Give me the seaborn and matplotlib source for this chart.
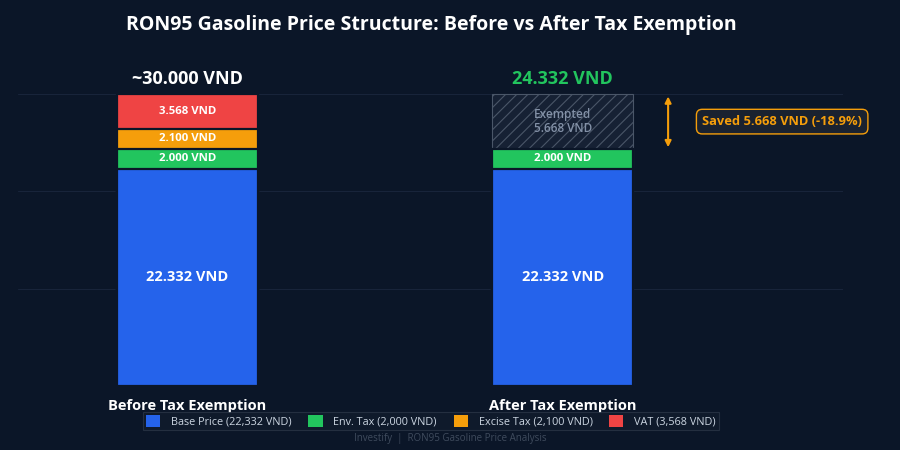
import matplotlib
matplotlib.use("Agg")
import matplotlib.pyplot as plt
import seaborn as sns
import pandas as pd
from matplotlib.patches import Patch

categories = ["Before Tax Exemption", "After Tax Exemption"]
base_price = [22332, 22332]
env_tax = [2000, 2000]
excise_tax = [2100, 0]
vat = [3568, 0]
before_total_label = "~30.000 VND"
after_total_label = "24.332 VND"
exempted_value = 5668
saved_label = "Saved 5.668 VND (-18.9%)"
legend_labels = ["Base Price (22,332 VND)", "Env. Tax (2,000 VND)",
                 "Excise Tax (2,100 VND)", "VAT (3,568 VND)"]

BG = "#0b1628"
C_BASE, C_ENV, C_EXC, C_VAT = "#2563eb", "#22c55e", "#f59e0b", "#ef4444"
FONT = ["Open Sans", "DejaVu Sans"]

sns.set_theme(style="dark")
plt.rcParams["font.family"] = FONT
plt.rcParams["hatch.color"] = "#3a475a"
plt.rcParams["hatch.linewidth"] = 0.8

fig = plt.figure(figsize=(9, 4.5), dpi=100, facecolor=BG)
ax = fig.add_axes([0.02, 0.142, 0.917, 0.7356])
ax.set_facecolor(BG)

df = pd.DataFrame({"cat": categories, "base": base_price, "env": env_tax,
                   "exc": excise_tax, "vat": vat})
df["c_env"] = df["base"] + df["env"]
df["c_exc"] = df["c_env"] + df["exc"]
df["c_vat"] = df["c_exc"] + df["vat"]
before = df[df["cat"] == categories[0]]
after = df[df["cat"] == categories[1]].copy()
after["c_exempt"] = after["c_env"] + exempted_value

W = 0.376
kw = dict(order=categories, width=W, edgecolor=BG, linewidth=1.6, ax=ax, errorbar=None)
sns.barplot(data=before, x="cat", y="c_vat", color=C_VAT, saturation=1, **kw)
sns.barplot(data=before, x="cat", y="c_exc", color=C_EXC, saturation=1, **kw)
sns.barplot(data=after, x="cat", y="c_exempt", order=categories, width=W,
            color="#162134", saturation=1, edgecolor="#4a5668", linewidth=0.8,
            hatch="///", ax=ax, errorbar=None)
sns.barplot(data=df, x="cat", y="c_env", color=C_ENV, saturation=1, **kw)
sns.barplot(data=df, x="cat", y="base", color=C_BASE, saturation=1, **kw)

ax.set_xlim(-0.452, 1.748)
ax.set_ylim(0, 34000)
ax.set_yticks([10000, 20000, 30000])
ax.set_yticklabels([])
ax.grid(axis="y", color="#18243a", linewidth=0.8)
ax.grid(axis="x", visible=False)
ax.set_axisbelow(True)
for s in ax.spines.values():
    s.set_visible(False)
ax.set_xlabel("")
ax.set_ylabel("")
ax.tick_params(axis="x", length=0, pad=9, colors="white")
ax.tick_params(axis="y", length=0)
for t in ax.get_xticklabels():
    t.set_fontweight("bold")
    t.set_fontsize(10.5)
    t.set_color("white")

def fmt(v):
    return f"{v:,}".replace(",", ".") + " VND"

# segment labels
for i in range(2):
    b = df.loc[i]
    ax.text(i, b["base"] / 2, fmt(int(b["base"])), ha="center", va="center",
            color="white", fontsize=10.5, fontweight="bold")
    ax.text(i, b["base"] + b["env"] / 2, fmt(int(b["env"])), ha="center", va="center",
            color="white", fontsize=8.2, fontweight="bold")
    if b["exc"] > 0:
        ax.text(i, b["c_env"] + b["exc"] / 2, fmt(int(b["exc"])), ha="center", va="center",
                color="white", fontsize=8.2, fontweight="bold")
    if b["vat"] > 0:
        ax.text(i, b["c_exc"] + b["vat"] / 2, fmt(int(b["vat"])), ha="center", va="center",
                color="white", fontsize=8.2, fontweight="bold")

ymid = after["c_env"].iloc[0] + exempted_value / 2
ax.text(1, ymid, "Exempted\n" + fmt(exempted_value), ha="center", va="center",
        color="#8391a7", fontsize=8.5, fontweight="semibold", linespacing=1.1)

# totals
ax.text(0, 31500, before_total_label, ha="center", va="center", color="white",
        fontsize=13, fontweight="bold")
ax.text(1, 31500, after_total_label, ha="center", va="center", color=C_ENV,
        fontsize=13, fontweight="bold")

# arrow and saved box
y_top = df["c_vat"].iloc[0]
y_bot = df["c_env"].iloc[1]
ax.annotate("", xy=(1.281, y_top - 250), xytext=(1.281, y_bot + 200),
            arrowprops=dict(arrowstyle="<|-|>", color=C_EXC, lw=1.5,
                            mutation_scale=9, shrinkA=0, shrinkB=0))
ax.text(1.585, ymid, saved_label, ha="center", va="center", color=C_EXC,
        fontsize=9.3, fontweight="bold",
        bbox=dict(boxstyle="round,pad=0.45,rounding_size=0.45", fc="#1a2230",
                  ec=C_EXC, lw=1))

# title
fig.text(431 / 900, 1 - 25 / 450, "RON95 Gasoline Price Structure: Before vs After Tax Exemption",
         ha="center", va="center", color="white", fontsize=14, fontweight="bold")

handles = [Patch(facecolor=c, edgecolor="none") for c in (C_BASE, C_ENV, C_EXC, C_VAT)]
leg = fig.legend(handles, legend_labels, loc="center", bbox_to_anchor=(431 / 900, 1 - 421 / 450),
                 ncol=4, frameon=True, fontsize=7.8, handlelength=1.3, handleheight=1.3,
                 columnspacing=1.55, handletextpad=1.0, borderpad=0.25, labelcolor="#cbd5e1")
fr = leg.get_frame()
fr.set_facecolor("#111c2d")
fr.set_edgecolor("#2a3647")
fr.set_linewidth(0.8)
fr.set_boxstyle("square", pad=0)

fig.text(450 / 900, 1 - 439 / 450, "Investify  |  RON95 Gasoline Price Analysis",
         ha="center", va="center", color="#3f4b5d", fontsize=7)

fig.savefig("out.png", dpi=100, facecolor=BG)
